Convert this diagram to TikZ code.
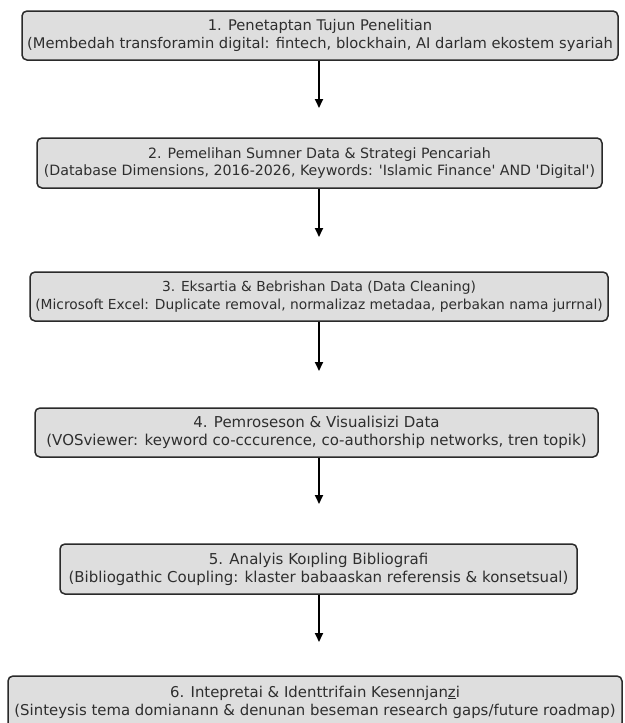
\documentclass[tikz,border=0pt]{standalone}
\usepackage{fontspec}
\setmainfont{DejaVu Sans}[Ligatures=TeXOff]
\usetikzlibrary{arrows.meta}
\definecolor{boxfill}{HTML}{DEDEDE}
\definecolor{boxline}{HTML}{2A2A2A}
\definecolor{txt}{HTML}{2E2E2E}
\tikzset{
  stepbox/.style={draw=boxline, line width=1.5pt, fill=boxfill, rounded corners=5pt,
    inner sep=0pt, align=center, text=txt,
    font=\fontsize{#1}{17.8}\selectfont},
  stepbox/.default=14.7,
  flow/.style={draw=black, line width=1.8pt, -{Triangle[length=9pt,width=8pt]}}
}
\begin{document}
\begin{tikzpicture}[x=1pt,y=-1pt]
\useasboundingbox (0,0) rectangle (624,723);
\fill[white] (0,0) rectangle (624,723);
\begin{scope}
\clip (0,0) rectangle (624,723);
\node[stepbox=14.7, minimum width=596pt, minimum height=49pt] (b1) at (320,35.5)
  {1. Penetaptan Tujun Penelitian\\(Membedah transforamin digital: fintech, blockhain, AI darlam ekostem syariah};
\node[stepbox=14.2, minimum width=565pt, minimum height=50pt] (b2) at (319.5,163)
  {2. Pemelihan Sumner Data \& Strategi Pencariah\\(Database Dimensions, 2016-2026, Keywords: 'Islamic Finance' AND 'Digital')};
\node[stepbox=13.8, minimum width=578pt, minimum height=49pt] (b3) at (319,296.5)
  {3. Eksartia \& Bebrishan Data (Data Cleaning)\\(Microsoft Excel: Duplicate removal, normalizaz metadaa, perbakan nama jurrnal)};
\node[stepbox=15.0, minimum width=563pt, minimum height=49pt] (b4) at (316.5,432.5)
  {4. Pemroseson \& Visualisizi Data\\(VOSviewer: keyword co-cccurence, co-authorship networks, tren topik)};
\node[stepbox=15.0, minimum width=517pt, minimum height=50pt] (b5) at (318.5,569)
  {5. Analyis Koıpling Bibliografi\\(Bibliogathic Coupling: klaster babaaskan referensis \& konsetsual)};
\node[stepbox=14.9, minimum width=614pt, minimum height=52pt] (b6) at (315,702)
  {6. Intepretai \& Identtrifain Kesennjan\underline{z}i\\(Sinteysis tema domianann \& denunan beseman research gaps/future roadmap)};
\end{scope}
\coordinate (t1) at (319,108);
\coordinate (t2) at (319,237);
\coordinate (t3) at (319,371);
\coordinate (t4) at (319,504);
\coordinate (t5) at (319,642);
\draw[flow] (b1.south -| t1) -- (t1);
\draw[flow] (b2.south -| t2) -- (t2);
\draw[flow] (b3.south -| t3) -- (t3);
\draw[flow] (b4.south -| t4) -- (t4);
\draw[flow] (b5.south -| t5) -- (t5);
\end{tikzpicture}
\end{document}
